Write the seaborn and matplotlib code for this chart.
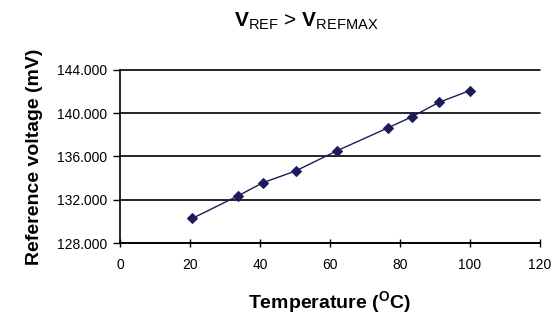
import matplotlib
matplotlib.use("Agg")
import matplotlib.pyplot as plt
import seaborn as sns
import pandas as pd

temperature = [20.7, 33.6, 40.9, 50.2, 62.1, 76.7, 83.5, 91.2, 100.0]
voltage = [130.28, 132.34, 133.58, 134.66, 136.54, 138.66, 139.68, 141.01, 142.09]
x_ticks = [0, 20, 40, 60, 80, 100, 120]
y_ticks = [128, 132, 136, 140, 144]

sns.set_style("white")
plt.rcParams['font.family'] = ['Liberation Sans', 'DejaVu Sans']
plt.rcParams['mathtext.fontset'] = 'custom'
plt.rcParams['mathtext.rm'] = 'Liberation Sans'
plt.rcParams['mathtext.bf'] = 'Liberation Sans:weight=bold'

df = pd.DataFrame({"Temperature": temperature, "Voltage": voltage})

fig = plt.figure(figsize=(5.55, 3.28), dpi=100)
ax = fig.add_axes([0.216, 0.259, 0.757, 0.528])

sns.lineplot(data=df, x="Temperature", y="Voltage", ax=ax, color="#1c1c5a",
             marker="D", markersize=5, linewidth=1.0, markeredgecolor="#1c1c5a")

ax.set_xlim(0, 120)
ax.set_ylim(128, 144)
ax.set_xticks(x_ticks)
ax.set_yticks(y_ticks)
ax.set_xticklabels([str(t) for t in x_ticks], fontsize=10, color="black")
ax.set_yticklabels([f"{v:.3f}" for v in y_ticks], fontsize=10, color="black")
ax.yaxis.grid(True, color="black", linewidth=1.2)
for gl in ax.yaxis.get_gridlines():
    gl.set_clip_on(False)
ax.xaxis.grid(False)
for s in ["top", "right"]:
    ax.spines[s].set_visible(False)
for s in ["left", "bottom"]:
    ax.spines[s].set_color("black")
    ax.spines[s].set_linewidth(1.2)
ax.tick_params(axis="x", direction="inout", length=6, width=1, color="black", pad=8, bottom=True)
ax.tick_params(axis="y", direction="out", length=5, width=1, color="black", pad=4, left=True)

ax.set_xlabel(r"Temperature ($^{\mathbf{O}}$C)", fontsize=14, fontweight="bold",
              labelpad=12, color="black")
ax.set_ylabel("Reference voltage (mV)", fontsize=14, fontweight="bold", labelpad=8,
              color="black")
ax.yaxis.set_label_coords(-0.184, 0.5)
fig.text(0.552, 0.935, r"$\mathbf{V}_{\mathrm{REF}}$ > $\mathbf{V}_{\mathrm{REFMAX}}$",
         fontsize=15, ha="center", va="center", color="black")

fig.savefig("out.png", dpi=100)
